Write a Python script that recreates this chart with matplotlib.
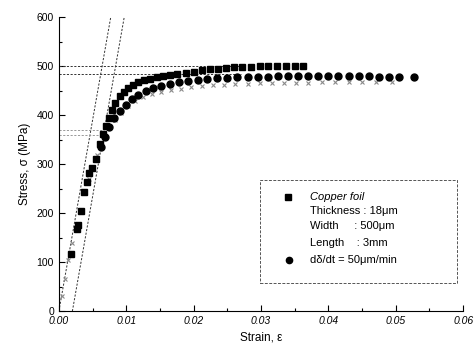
import matplotlib.pyplot as plt
from matplotlib.patches import Rectangle

plt.rcParams['font.family'] = ['Liberation Sans', 'DejaVu Sans']

# black squares (upper curve)
sq_strain = [0.0018, 0.0027, 0.0028, 0.0033, 0.0037, 0.0042, 0.0044, 0.0049, 0.0055,
             0.0061, 0.0066, 0.0070, 0.0074, 0.0079, 0.0084, 0.0090, 0.0096, 0.0103,
             0.0110, 0.0118, 0.0126, 0.0135, 0.0145, 0.0155, 0.0165, 0.0176, 0.0188,
             0.0200, 0.0212, 0.0224, 0.0236, 0.0248, 0.0260, 0.0272, 0.0285, 0.0298,
             0.0311, 0.0324, 0.0337, 0.0350, 0.0362]
sq_stress = [116, 167, 176, 204, 243, 263, 282, 292, 310,
             340, 362, 378, 394, 410, 424, 438, 448, 456,
             462, 467, 471, 474, 477, 480, 482, 484, 486,
             488, 491, 493, 494, 496, 497, 498, 499, 500,
             500, 500, 501, 501, 501]

# black circles (middle curve)
ci_strain = [0.0062, 0.0068, 0.0075, 0.0082, 0.0090, 0.0099, 0.0108, 0.0118, 0.0129,
             0.0140, 0.0152, 0.0165, 0.0178, 0.0192, 0.0206, 0.0220, 0.0235, 0.0250,
             0.0265, 0.0280, 0.0295, 0.0310, 0.0325, 0.0340, 0.0355, 0.0370, 0.0385,
             0.0400, 0.0415, 0.0430, 0.0445, 0.0460, 0.0475, 0.0490, 0.0505, 0.0527]
ci_stress = [335, 355, 375, 393, 408, 421, 432, 441, 449,
             455, 460, 464, 467, 470, 472, 474, 475, 476,
             477, 477, 478, 478, 479, 479, 479, 480, 480,
             480, 479, 479, 479, 479, 478, 478, 478, 478]

# grey crosses (lower curve)
cr_strain = [0.0004, 0.0009, 0.0014, 0.0020, 0.0026, 0.0032, 0.0038, 0.0044, 0.0050,
             0.0056, 0.0062, 0.0068, 0.0075, 0.0083, 0.0092, 0.0102, 0.0113, 0.0125,
             0.0138, 0.0152, 0.0166, 0.0181, 0.0196, 0.0212, 0.0228, 0.0245, 0.0262,
             0.0280, 0.0298, 0.0316, 0.0334, 0.0352, 0.0370, 0.0390, 0.0410, 0.0430,
             0.0450, 0.0470, 0.0495]
cr_stress = [30, 65, 105, 140, 170, 205, 240, 270, 295,
             318, 338, 356, 374, 390, 405, 418, 428, 436,
             442, 447, 451, 454, 457, 459, 461, 462, 463,
             464, 465, 465, 466, 466, 466, 467, 467, 467,
             467, 467, 467]

# elastic lines and reference levels
elastic_x0 = [0.0, 0.002]
elastic_slope = 600 / 0.0077
yield_levels = [500, 483]
offset_levels = [369, 359]

fig = plt.figure(figsize=(4.75, 3.54), dpi=100)
ax = fig.add_axes([0.124, 0.121, 0.851, 0.831])

dash = (0, (2.2, 1.6))
for x0 in elastic_x0:
    ax.plot([x0, x0 + 600 / elastic_slope], [0, 600], color='#333333', lw=0.7, ls=dash)
for lv in yield_levels:
    ax.plot([0, 0.027], [lv, lv], color='#333333', lw=0.7, ls=dash)
for lv in offset_levels:
    ax.plot([0, 0.0065], [lv, lv], color='#999999', lw=0.7, ls=dash)

ax.plot(cr_strain, cr_stress, ls='none', marker='x', ms=3.5, mew=0.8, color='#8a8a8a')
ax.plot(ci_strain, ci_stress, ls='none', marker='o', ms=5, color='black')
ax.plot(sq_strain, sq_stress, ls='none', marker='s', ms=5, color='black')

ax.set_xlim(0, 0.06)
ax.set_ylim(0, 600)
ax.set_xticks([0.00, 0.01, 0.02, 0.03, 0.04, 0.05, 0.06])
ax.set_xticklabels(['0.00', '0.01', '0.02', '0.03', '0.04', '0.05', '0.06'], style='italic')
ax.set_xticks([0.005, 0.015, 0.025, 0.035, 0.045, 0.055], minor=True)
ax.set_yticks([0, 100, 200, 300, 400, 500, 600])
ax.set_yticks([50, 150, 250, 350, 450, 550], minor=True)
ax.tick_params(direction='in', labelsize=7.5, length=4, width=0.8)
ax.tick_params(which='minor', direction='in', length=2, width=0.8)
for s in ['top', 'right']:
    ax.spines[s].set_visible(False)
ax.set_ylabel('Stress, σ (MPa)', fontsize=8.5)
ax.set_xlabel('Strain, ε', fontsize=8.5)

# legend box
ax.add_patch(Rectangle((0.497, 0.095), 0.488, 0.351, transform=ax.transAxes,
                       fill=False, ec='#555555', lw=0.7, ls=(0, (3, 1.5))))
ax.plot([0.567], [0.388], transform=ax.transAxes, marker='s', ms=4.5, color='black')
ax.plot([0.569], [0.173], transform=ax.transAxes, marker='o', ms=4.5, color='black')
ax.text(0.62, 0.388, 'Copper foil', transform=ax.transAxes, fontsize=8, style='italic', va='center')
ax.text(0.62, 0.342, 'Thickness : 18μm', transform=ax.transAxes, fontsize=8, va='center')
ax.text(0.62, 0.290, 'Width     : 500μm', transform=ax.transAxes, fontsize=8, va='center')
ax.text(0.62, 0.231, 'Length    : 3mm', transform=ax.transAxes, fontsize=8, va='center')
ax.text(0.62, 0.173, 'dδ/dt = 50μm/min', transform=ax.transAxes, fontsize=8, va='center')

fig.savefig('out.png', dpi=100)
